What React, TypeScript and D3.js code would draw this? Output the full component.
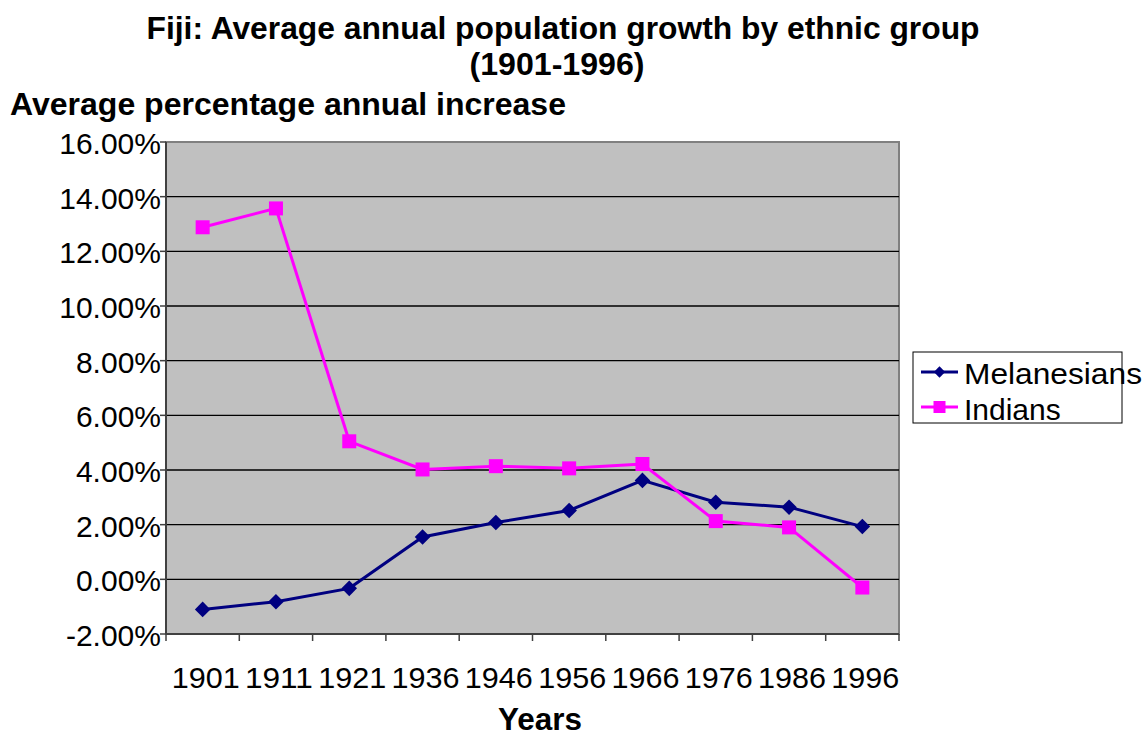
import * as d3 from 'd3';

const years = ['1901', '1911', '1921', '1936', '1946', '1956', '1966', '1976', '1986', '1996'];
const melanesians = [-1.1, -0.82, -0.33, 1.55, 2.08, 2.52, 3.62, 2.82, 2.64, 1.93];
const indians = [12.88, 13.57, 5.05, 4.02, 4.14, 4.06, 4.22, 2.13, 1.9, -0.3];
const yTicks = [-2, 0, 2, 4, 6, 8, 10, 12, 14, 16];

const W = 1146;
const H = 736;
const plot = { left: 166, right: 899, top: 142, bottom: 634 };
const font = '"Liberation Sans", Arial, sans-serif';

const App = () => {
  const x = d3.scaleBand<string>().domain(years).range([plot.left, plot.right]);
  const y = d3.scaleLinear().domain([-2, 16]).range([plot.bottom, plot.top]);
  const cx = (i: number) => (x(years[i]) ?? 0) + x.bandwidth() / 2;
  const line = d3.line<number>()
    .x((_, i) => cx(i))
    .y(d => y(d));

  return (
    <svg width={W} height={H} style={{ position: 'absolute', left: 0, top: 0, background: '#fff' }} fontFamily={font}>
      <text x={563} y={39} textAnchor="middle" fontSize={31} fontWeight="bold" textLength={833} lengthAdjust="spacingAndGlyphs">Fiji: Average annual population growth by ethnic group</text>
      <text x={557} y={75} textAnchor="middle" fontSize={31} fontWeight="bold" textLength={175} lengthAdjust="spacingAndGlyphs">(1901-1996)</text>
      <text x={10} y={115} fontSize={31} fontWeight="bold" textLength={556} lengthAdjust="spacingAndGlyphs">Average percentage annual increase</text>

      <rect x={plot.left} y={plot.top} width={plot.right - plot.left} height={plot.bottom - plot.top} fill="#c0c0c0" stroke="#808080" strokeWidth={2} />
      {yTicks.filter(t => t !== -2 && t !== 16).map(t => (
        <line key={t} x1={plot.left} x2={plot.right} y1={y(t)} y2={y(t)} stroke="#000" strokeWidth={1.3} />
      ))}
      <line x1={plot.left} x2={plot.left} y1={plot.top} y2={plot.bottom} stroke="#404040" strokeWidth={2} />
      <line x1={plot.left} x2={plot.right} y1={plot.bottom} y2={plot.bottom} stroke="#404040" strokeWidth={2} />

      {yTicks.map(t => (
        <g key={t}>
          <line x1={plot.left - 6} x2={plot.left} y1={y(t)} y2={y(t)} stroke="#404040" strokeWidth={1.5} />
          <text x={161} y={y(t) + 12} textAnchor="end" fontSize={30}>{t.toFixed(2)}%</text>
        </g>
      ))}
      {d3.range(years.length + 1).map(i => (
        <line key={i} x1={plot.left + i * x.step()} x2={plot.left + i * x.step()} y1={plot.bottom} y2={plot.bottom + 7} stroke="#404040" strokeWidth={1.5} />
      ))}
      {years.map((yr, i) => (
        <text key={yr} x={cx(i) + 3} y={688} textAnchor="middle" fontSize={30} textLength={68} lengthAdjust="spacingAndGlyphs">{yr}</text>
      ))}
      <text x={540} y={730} textAnchor="middle" fontSize={31} fontWeight="bold" textLength={84} lengthAdjust="spacingAndGlyphs">Years</text>

      <path d={line(melanesians) ?? ''} fill="none" stroke="#000080" strokeWidth={3} />
      {melanesians.map((v, i) => (
        <path key={i} d={d3.symbol(d3.symbolSquare, 121)() ?? ''} transform={`translate(${cx(i)},${y(v)}) rotate(45)`} fill="#000080" />
      ))}
      <path d={line(indians) ?? ''} fill="none" stroke="#ff00ff" strokeWidth={3} />
      {indians.map((v, i) => (
        <rect key={i} x={cx(i) - 7} y={y(v) - 7} width={14} height={14} fill="#ff00ff" />
      ))}

      <g>
        <rect x={913} y={352} width={209} height={71} fill="#fff" stroke="#000" strokeWidth={1} />
        <line x1={921} x2={958} y1={372} y2={372} stroke="#000080" strokeWidth={3} />
        <path d={d3.symbol(d3.symbolSquare, 64)() ?? ''} transform="translate(939.5,372) rotate(45)" fill="#000080" />
        <text x={964} y={384} fontSize={30} textLength={178} lengthAdjust="spacingAndGlyphs">Melanesians</text>
        <line x1={921} x2={958} y1={407} y2={407} stroke="#ff00ff" strokeWidth={3} />
        <rect x={933.5} y={401} width={12} height={12} fill="#ff00ff" />
        <text x={964} y={420} fontSize={30}>Indians</text>
      </g>
    </svg>
  );
};

export default App;
